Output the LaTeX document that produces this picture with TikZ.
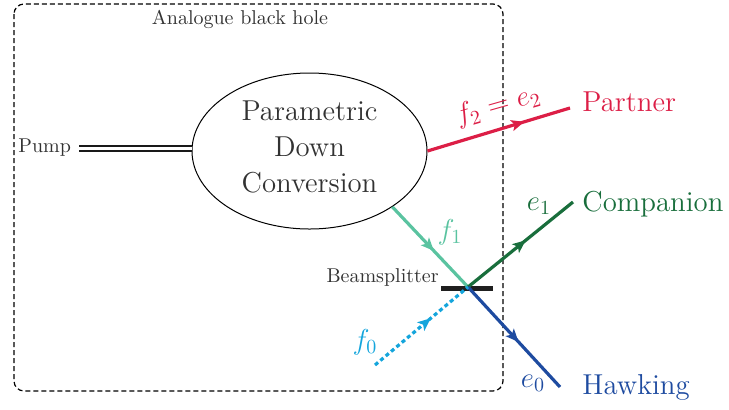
\documentclass[tikz,border=0pt]{standalone}
\usetikzlibrary{shapes.geometric,decorations.markings,arrows.meta}
\definecolor{partnercol}{RGB}{220,30,70}
\definecolor{companioncol}{RGB}{25,110,60}
\definecolor{fonecol}{RGB}{90,195,160}
\definecolor{hawkingcol}{RGB}{30,75,160}
\definecolor{fzerocol}{RGB}{20,165,220}
\definecolor{labelgray}{RGB}{50,50,50}
\begin{document}
\begin{tikzpicture}[x=0.5pt,y=-0.5pt,
  smalltext/.style={font=\normalsize,text=labelgray,inner sep=0pt},
  bigtext/.style={font=\Large,inner sep=0pt},
  beam/.style={line width=1.6pt},
  midarrow/.style={postaction={decorate,decoration={markings,
     mark=at position #1 with {\pgfsetdash{}{0pt}\arrow{Stealth[length=6.5pt,width=5.5pt,inset=1.5pt]}}}}},
  pdcshape/.style={draw,ellipse,line width=0.5pt,minimum width=117.5pt,minimum height=78pt,inner sep=0pt},
  boxstyle/.style={draw,line width=0.6pt,dash pattern=on 2.5pt off 1.5pt,rounded corners=5pt}
]
\useasboundingbox (0,0) rectangle (729,409);

% analogue black hole box
\draw[boxstyle] (14,4) rectangle (503,391);
\node[smalltext,anchor=base] (abh) at (240,24) {Analogue black hole};

% PDC
\node[pdcshape] (pdc) at (309.5,151) {};
\node[bigtext,align=center,text=labelgray] (pdctext) at (309.5,147) {Parametric\\Down\\Conversion};

% Pump
\node[smalltext,anchor=base west] (pump) at (18,152) {Pump};
\coordinate (pumpstart) at (79,148.5);
\draw[line width=1.1pt,double,double distance=1.1pt,black!90] (pumpstart) -- (pumpstart -| pdc.west);

% Beamsplitter
\node[fill=black!88,minimum width=26pt,minimum height=2.5pt,inner sep=0pt] (bs) at (467,288.5) {};
\coordinate (x) at (468,287);
\node[smalltext,anchor=base east] (bslabel) at (439,282) {Beamsplitter};

% end points
\coordinate (partnerend) at (570,108);
\coordinate (companionend) at (573,202);
\coordinate (hawkingend) at (560,387);
\coordinate (fzerostart) at (375,365);

% outputs
\node[bigtext,anchor=base west,text=partnercol] (partner) at (582,111.5) {Partner};
\node[bigtext,anchor=base west,text=companioncol] (companion) at (582,211) {Companion};
\node[bigtext,anchor=base west,text=hawkingcol] (hawking) at (582,394) {Hawking};

% beams
\draw[beam,partnercol,midarrow=0.68] (pdc.east) -- (partnerend);
\draw[beam,fonecol,midarrow=0.55] (pdc.-34.5) -- (x);
\draw[beam,companioncol,midarrow=0.55] (x) -- (companionend);
\draw[beam,hawkingcol,midarrow=0.55] (x) -- (hawkingend);
\draw[beam,fzerocol,dash pattern=on 2pt off 1.5pt,midarrow=0.6] (fzerostart) -- (x);

% labels
\node[bigtext,text=partnercol,rotate=15.9] (lf2) at (498,106) {$f_2=e_2$};
\node[bigtext,text=fonecol] (lf1) at (450,232) {$f_1$};
\node[bigtext,text=companioncol] (le1) at (539,206) {$e_1$};
\node[bigtext,text=hawkingcol] (le0) at (533,383) {$e_0$};
\node[bigtext,text=fzerocol] (lf0) at (365,342) {$f_0$};
\end{tikzpicture}
\end{document}
